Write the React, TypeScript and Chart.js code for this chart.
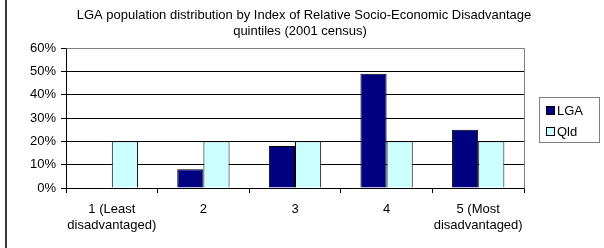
import React, { useEffect, useRef } from "react";
import { Chart, registerables } from "chart.js";

Chart.register(...registerables);

const categories: (string | string[])[] = [
  ["1 (Least", "disadvantaged)"],
  "2",
  "3",
  "4",
  ["5 (Most", "disadvantaged)"],
];
const lgaValues = [0, 8, 18, 49, 25];
const qldValues = [20, 20, 20, 20, 20];
const seriesNames = ["LGA", "Qld"];
const titleLines = [
  "LGA population distribution by Index of Relative Socio-Economic Disadvantage",
  "quintiles (2001 census)",
];
const yTicks = [0, 10, 20, 30, 40, 50, 60];

const FONT = "'Liberation Sans', Arial, sans-serif";
const NAVY = "#000080";
const CYAN = "#CCFFFF";

const decorPlugin = {
  id: "decor",
  beforeDraw(chart: any) {
    const ctx = chart.ctx;
    ctx.save();
    ctx.fillStyle = "#ffffff";
    ctx.fillRect(0, 0, chart.width, chart.height);
    ctx.fillStyle = "#3a3a3a";
    ctx.fillRect(5, 0, 2, chart.height);
    ctx.restore();
  },
  afterDraw(chart: any) {
    const ctx = chart.ctx;
    const a = chart.chartArea;
    ctx.save();
    ctx.strokeStyle = "#808080";
    ctx.lineWidth = 1;
    ctx.beginPath();
    ctx.moveTo(Math.round(a.left) + 0.5, Math.round(a.top) + 0.5);
    ctx.lineTo(Math.round(a.right) + 0.5, Math.round(a.top) + 0.5);
    ctx.lineTo(Math.round(a.right) + 0.5, Math.round(a.bottom) + 0.5);
    ctx.stroke();
    // title
    ctx.fillStyle = "#000";
    ctx.font = `13px ${FONT}`;
    ctx.textAlign = "center";
    ctx.textBaseline = "middle";
    ctx.fillText(titleLines[0], 304, 15);
    ctx.fillText(titleLines[1], 300, 31);
    // legend
    ctx.strokeStyle = "#808080";
    ctx.strokeRect(539.5, 97.5, 60, 45);
    const items = [
      { name: seriesNames[0], color: NAVY, y: 110 },
      { name: seriesNames[1], color: CYAN, y: 131 },
    ];
    ctx.textAlign = "left";
    ctx.font = `13px ${FONT}`;
    for (const it of items) {
      ctx.fillStyle = it.color;
      ctx.fillRect(547, it.y - 3, 7, 7);
      ctx.strokeStyle = "#000";
      ctx.strokeRect(546.5, it.y - 3.5, 8, 8);
      ctx.fillStyle = "#000";
      ctx.fillText(it.name, 557, it.y + 1);
    }
    ctx.restore();
  },
};

export default function App() {
  const ref = useRef<HTMLCanvasElement>(null);
  useEffect(() => {
    if (!ref.current) return;
    const chart = new Chart(ref.current, {
      type: "bar",
      data: {
        labels: categories,
        datasets: [
          {
            label: seriesNames[0],
            data: lgaValues,
            backgroundColor: NAVY,
            borderColor: "#000",
            borderWidth: 1,
          },
          {
            label: seriesNames[1],
            data: qldValues,
            backgroundColor: CYAN,
            borderColor: "#000",
            borderWidth: 1,
          },
        ],
      },
      plugins: [decorPlugin],
      options: {
        responsive: false,
        animation: false,
        devicePixelRatio: 1,
        layout: { padding: { left: 6, top: 48, right: 80, bottom: 15 } },
        datasets: {
          bar: { categoryPercentage: 0.571, barPercentage: 1 },
        },
        plugins: {
          legend: { display: false },
          title: { display: false },
          tooltip: { enabled: false },
        },
        scales: {
          x: {
            afterFit(scale: any) {
              scale.height = 45;
            },
            grid: {
              drawOnChartArea: false,
              drawTicks: true,
              tickLength: 5,
              color: "#000",
              offset: true,
            },
            border: { display: true, color: "#000", width: 1 },
            ticks: {
              color: "#000",
              font: { family: FONT, size: 13, lineHeight: 1.25 },
              maxRotation: 0,
              autoSkip: false,
              padding: 8,
            },
          },
          y: {
            min: 0,
            max: 60,
            afterFit(scale: any) {
              scale.width = 60;
            },
            afterBuildTicks(scale: any) {
              scale.ticks = yTicks.map((v) => ({ value: v }));
            },
            grid: {
              color: "#000",
              drawTicks: true,
              tickLength: 5,
            },
            border: { display: true, color: "#000", width: 1 },
            ticks: {
              color: "#000",
              font: { family: FONT, size: 13 },
              padding: 5,
              callback: (v: any) => `${v}%`,
            },
          },
        },
      },
    });
    return () => chart.destroy();
  }, []);
  return (
    <div style={{ position: "fixed", left: 0, top: 0, width: 604, height: 248 }}>
      <canvas ref={ref} width={604} height={248} style={{ width: 604, height: 248 }} />
    </div>
  );
}
